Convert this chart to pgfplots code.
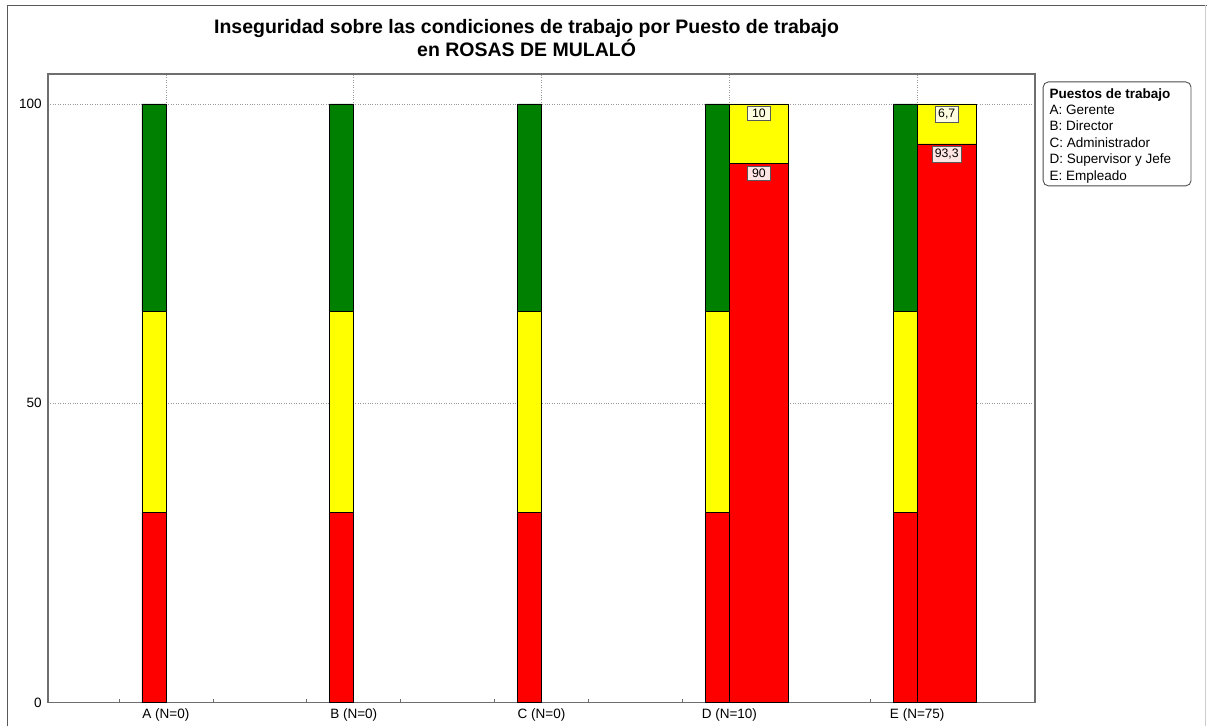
\documentclass[border=0pt]{standalone}
\usepackage{pgfplots}
\pgfplotsset{compat=1.18}
\usepackage{pgfplotstable}
\usepackage{fontspec}
\setmainfont{Liberation Sans}

\definecolor{rrojo}{HTML}{FF0000}
\definecolor{ramarillo}{HTML}{FFFF00}
\definecolor{rverde}{HTML}{008000}
\definecolor{ejes}{HTML}{6E6E6E}
\definecolor{lblam}{HTML}{FFFFE0}
\definecolor{lblro}{HTML}{FFE4E4}

% barras de referencia (rojo / amarillo / verde)
\pgfplotstableread{
x red yellow green
1 31.7 33.6 34.7
2 31.7 33.6 34.7
3 31.7 33.6 34.7
4 31.7 33.6 34.7
5 31.7 33.6 34.7
}\refbars

% resultados por puesto: rojo y total (rojo + amarillo)
\pgfplotstableread{
x red total lred lyellow
4 90 100 90 10
5 93.3 100 93,3 6,7
}\resbars

\begin{document}
\begin{tikzpicture}
  \path (0,0) rectangle (24.16cm,14.54cm);
  \draw[gray!70!black, line width=1.1pt] (0.15cm,0cm) -- (0.15cm,14.43cm) -- (24.16cm,14.43cm);
  \draw[gray!40, line width=0.6pt] (24.12cm,0cm) -- (24.12cm,14.43cm);

  \begin{axis}[
      at={(0.96cm,0.48cm)}, anchor=south west,
      scale only axis,
      width=19.76cm, height=12.58cm,
      ybar stacked,
      bar width=0.128, bar shift=-0.064,
      xmin=0.372, xmax=5.628,
      ymin=0, ymax=105,
      xtick={1,2,3,4,5},
      xticklabels={A (N=0),B (N=0),C (N=0),D (N=10),E (N=75)},
      minor xtick={0.75,1.25,...,5.5},
      ytick={0,50,100},
      axis line style={ejes, line width=0.8pt},
      xtick pos=bottom, ytick pos=left,
      tick align=inside,
      major tick length=2pt, minor tick length=2pt,
      every tick/.style={ejes},
      ytick style={draw=none},
      xmajorgrids, ymajorgrids,
      major grid style={densely dotted, gray!80, line width=0.4pt},
      tick label style={font=\fontsize{7.7}{8.5}\selectfont},
      /pgf/number format/assume math mode=true,
      every axis plot/.append style={draw=black, line width=0.4pt},
    ]
    \addplot[fill=rrojo] table[x=x, y=red] {\refbars};
    \addplot[fill=ramarillo] table[x=x, y=yellow] {\refbars};
    \addplot[fill=rverde] table[x=x, y=green] {\refbars};
  \end{axis}

  \begin{axis}[
      at={(0.96cm,0.48cm)}, anchor=south west,
      scale only axis,
      width=19.76cm, height=12.58cm,
      hide axis,
      ybar,
      bar width=0.314, bar shift=0.157,
      xmin=0.372, xmax=5.628,
      ymin=0, ymax=105,
      every axis plot/.append style={draw=black, line width=0.4pt, bar shift=0.157},
      point meta=explicit symbolic,
      nodes near coords,
      every node near coord/.append style={
        font=\fontsize{7}{8}\selectfont, anchor=north, yshift=-1.3pt,
        draw=black!65, line width=0.5pt, inner sep=1.5pt,
        minimum width=0.45cm},
    ]
    \addplot[fill=ramarillo, every node near coord/.append style={fill=lblam}]
      table[x=x, y=total, meta=lyellow] {\resbars};
    \addplot[fill=rrojo, every node near coord/.append style={fill=lblro}]
      table[x=x, y=red, meta=lred] {\resbars};
  \end{axis}

  \node[font=\bfseries\fontsize{11.1}{11.4}\selectfont, align=center]
    at (10.54cm,13.78cm)
    {Inseguridad sobre las condiciones de trabajo por Puesto de trabajo\\en ROSAS DE MULALÓ};

  \draw[gray!60!black, rounded corners=3pt, line width=0.5pt]
    (20.88cm,10.82cm) rectangle (23.84cm,12.9cm);
  \node[anchor=north west, align=left, inner sep=0pt,
        font=\fontsize{7.7}{9.35}\selectfont]
    at (21.0cm,12.78cm)
    {\textbf{Puestos de trabajo}\\A: Gerente\\B: Director\\C: Administrador\\D: Supervisor y Jefe\\E: Empleado};
\end{tikzpicture}
\end{document}
